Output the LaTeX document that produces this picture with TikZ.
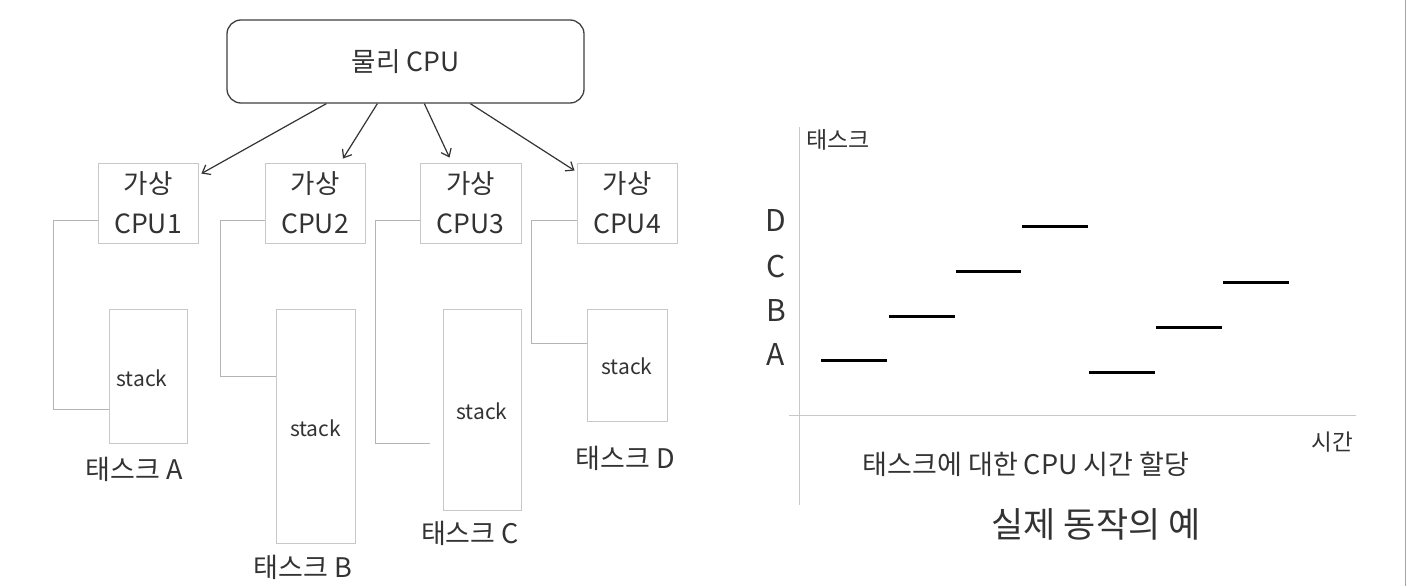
\documentclass[tikz,border=0pt]{standalone}
\usepackage{fontspec}
\setmainfont{Noto Sans CJK KR}
\usetikzlibrary{calc,arrows.meta}
\definecolor{txt}{HTML}{333333}
\definecolor{boxgray}{HTML}{C8C8C8}
\definecolor{conngray}{HTML}{B4B4B4}
\begin{document}
\begin{tikzpicture}[x=1pt,y=-1pt,
  every node/.style={text=txt},
  phys/.style={draw=black!75, line width=1.3pt, rounded corners=14pt, minimum width=357pt, minimum height=83pt, inner sep=0pt, font=\fontsize{26.5}{30}\selectfont},
  vcpu/.style={draw=boxgray, line width=0.9pt, minimum width=100pt, minimum height=80pt, align=center, inner sep=0pt, font=\fontsize{26.5}{40}\selectfont},
  stackbox/.style={draw=boxgray, line width=0.9pt, inner sep=0pt},
  stacktxt/.style={font=\fontsize{21}{24}\selectfont, inner sep=0pt},
  tasklbl/.style={font=\fontsize{27}{30}\selectfont, inner sep=0pt},
  conn/.style={draw=conngray, line width=0.9pt},
  arr/.style={draw=black!80, line width=1.2pt, -{Straight Barb[length=7pt,width=11pt]}},
  axis/.style={draw=boxgray, line width=1pt},
  bar/.style={draw=black, line width=3pt},
  ylbl/.style={font=\fontsize{30}{33}\selectfont, inner sep=0pt},
  ]
\useasboundingbox (0,0) rectangle (1407,586);
\fill[white] (0,0) rectangle (1407,586);
\draw[draw=black!35, line width=1pt] (1405,0) -- (1405,586);

% physical CPU
\node[phys] (phys) at (405.5,61.5) {물리 CPU};

% virtual CPUs
\node[vcpu] (v1) at (148,203) {가상\\CPU1};
\node[vcpu] (v2) at (315,203) {가상\\CPU2};
\node[vcpu, minimum width=101pt] (v3) at (470.5,203) {가상\\CPU3};
\node[vcpu] (v4) at (627,203) {가상\\CPU4};

% arrows
\draw[arr] ($(phys.south west)+(100,0)$) -- ($(v1.north east)+(3,11)$);
\draw[arr] ($(phys.south west)+(151,0)$) -- ($(v2.north)+(28,-4)$);
\draw[arr] ($(phys.south west)+(198,0)$) -- ($(v3.north)+(-21,-5)$);
\draw[arr] ($(phys.south west)+(244,0)$) -- ($(v4.north west)+(-2,8)$);

% stack boxes
\node[stackbox, minimum width=78pt, minimum height=134pt] (sA) at (148,376) {};
\node[stackbox, minimum width=79pt, minimum height=234pt] (sB) at (315.5,426) {};
\node[stackbox, minimum width=78pt, minimum height=201pt] (sC) at (482,409.5) {};
\node[stackbox, minimum width=80pt, minimum height=112pt] (sD) at (627,365) {};

\node[stacktxt] (tA) at ($(sA.center)+(-6,2)$) {stack};
\node[stacktxt] (tB) at ($(sB.center)+(0,2)$) {stack};
\node[stacktxt] (tC) at ($(sC.center)+(0,1.5)$) {stack};
\node[stacktxt] (tD) at ($(sD.center)+(0,1)$) {stack};

% connectors
\draw[conn] ($(v1.west)+(0,17)$) -| ($(sA.west)+(-55,33)$) -- ($(sA.west)+(0,33)$);
\draw[conn] ($(v2.west)+(0,17)$) -| ($(sB.west)+(-55,-50)$) -- ($(sB.west)+(0,-50)$);
\draw[conn] ($(v3.west)+(0,17)$) -| ($(sC.west)+(-67,33.5)$) -- ($(sC.west)+(-13,33.5)$);
\draw[conn] ($(v4.west)+(0,17)$) -| ($(sD.west)+(-55,-22)$) -- ($(sD.west)+(0,-22)$);

% task labels
\node[tasklbl] (lA) at (134,469) {태스크 A};
\node[tasklbl] (lB) at (303,567) {태스크 B};
\node[tasklbl] (lC) at (470,533) {태스크 C};
\node[tasklbl] (lD) at (625,458) {태스크 D};

% chart
\coordinate (yTop) at (799,127);
\coordinate (yBot) at (799,505);
\coordinate (xL) at (789,415);
\coordinate (xR) at (1356,415);
\draw[axis] (yTop) -- (yBot);
\draw[axis] (xL) -- (xR);

\node[font=\fontsize{23}{26}\selectfont, inner sep=0pt] (ytitle) at (838,140) {태스크};
\node[font=\fontsize{22.5}{26}\selectfont, inner sep=0pt] (xtitle) at (1332,442) {시간};

\node[ylbl] (lblD) at (776,221) {D};
\node[ylbl] (lblC) at (776,267) {C};
\node[ylbl] (lblB) at (776,311) {B};
\node[ylbl] (lblA) at (776,355) {A};

\coordinate (a1s) at (821,360); \coordinate (a1e) at (887,360);
\coordinate (b1s) at (889,316); \coordinate (b1e) at (955,316);
\coordinate (c1s) at (956,271); \coordinate (c1e) at (1021,271);
\coordinate (d1s) at (1022,226); \coordinate (d1e) at (1088,226);
\coordinate (a2s) at (1089,372); \coordinate (a2e) at (1155,372);
\coordinate (b2s) at (1156,327); \coordinate (b2e) at (1222,327);
\coordinate (c2s) at (1223,282); \coordinate (c2e) at (1289,282);
\draw[bar] (a1s) -- (a1e);
\draw[bar] (b1s) -- (b1e);
\draw[bar] (c1s) -- (c1e);
\draw[bar] (d1s) -- (d1e);
\draw[bar] (a2s) -- (a2e);
\draw[bar] (b2s) -- (b2e);
\draw[bar] (c2s) -- (c2e);

\node[font=\fontsize{27}{30}\selectfont, inner sep=0pt] (caption1) at (1026,464) {태스크에 대한 CPU 시간 할당};
\node[font=\fontsize{35}{38}\selectfont, inner sep=0pt] (caption2) at (1096,524) {실제 동작의 예};
\end{tikzpicture}
\end{document}
